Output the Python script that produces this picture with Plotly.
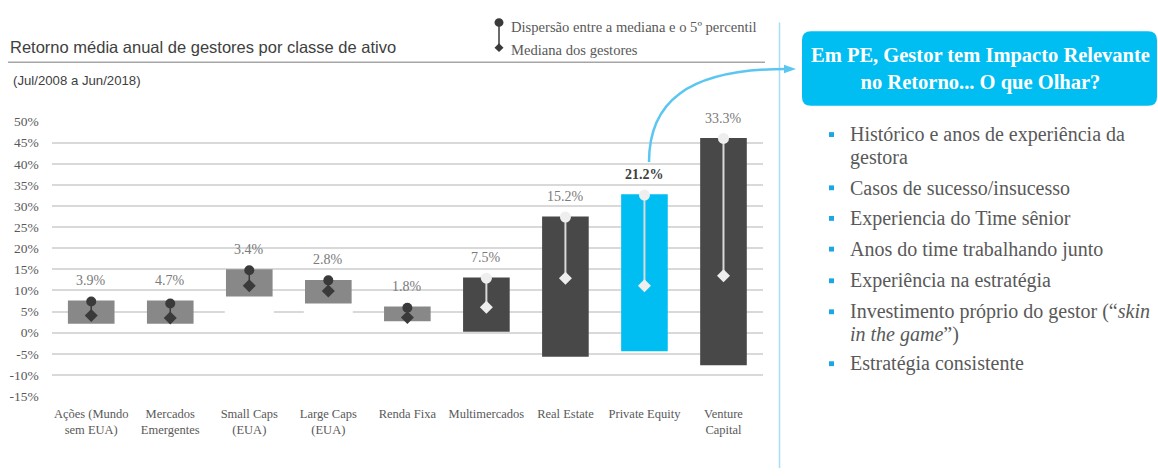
import plotly.graph_objects as go

# ---------------- data ----------------
categories = ["Ações (Mundo<br>sem EUA)", "Mercados<br>Emergentes", "Small Caps<br>(EUA)",
              "Large Caps<br>(EUA)", "Renda Fixa", "Multimercados", "Real Estate",
              "Private Equity", "Venture<br>Capital"]
bar_low = [2.1, 2.1, 8.6, 6.9, 2.7, 0.2, -5.7, -4.4, -7.7]
bar_high = [7.6, 7.6, 15.0, 12.5, 6.2, 13.1, 27.5, 32.8, 46.1]
top_dot = [7.4, 6.9, 14.8, 12.4, 5.9, 12.9, 27.4, 32.6, 46.0]
median = [4.1, 3.5, 11.1, 9.9, 3.6, 6.0, 12.9, 11.1, 13.5]
dispersion = [3.9, 4.7, 3.4, 2.8, 1.8, 7.5, 15.2, 21.2, 33.3]
y_ticks = [-15, -10, -5, 0, 5, 10, 15, 20, 25, 30, 35, 40, 45, 50]
bullets = [
    ["Histórico e anos de experiência da", "gestora"],
    ["Casos de sucesso/insucesso"],
    ["Experiencia do Time sênior"],
    ["Anos do time trabalhando junto"],
    ["Experiência na estratégia"],
    ["Investimento próprio do gestor (“<i>skin</i>", "<i>in the game</i>”)"],
    ["Estratégia consistente"],
]

# ---------------- styles ----------------
W, H = 1158, 476
SERIF = "Liberation Serif"
SANS = "Liberation Sans"
GRAY_BAR = "#888888"
DARK_BAR = "#484848"
CYAN = "#00bef2"
GAP = 0.4  # keeps the zero gridline visible above white bases
n = len(categories)
bar_colors = [GRAY_BAR] * 5 + [DARK_BAR, DARK_BAR, CYAN, DARK_BAR]
light_group = [False] * 5 + [True] * 4


def px(x):
    return x / W


def py(y):
    return 1 - y / H


fig = go.Figure()

# white base hiding gridlines below floating bars
fig.add_trace(go.Bar(x=categories, y=[max(l - GAP, 0) for l in bar_low], base=GAP,
                     marker=dict(color="white", line=dict(width=0)), width=0.62,
                     hoverinfo="skip", showlegend=False))
# floating bars
fig.add_trace(go.Bar(x=categories, y=[h - l for h, l in zip(bar_high, bar_low)], base=bar_low,
                     marker=dict(color=bar_colors, line=dict(width=0)), width=0.59,
                     showlegend=False))

for light in (False, True):
    idx = [i for i in range(n) if light_group[i] == light]
    col = "#eeeeee" if light else "#3a3a3a"
    lcol = "#d9d9d9" if light else "#3a3a3a"
    lx, ly = [], []
    for i in idx:
        lx += [categories[i], categories[i], None]
        ly += [top_dot[i], median[i], None]
    fig.add_trace(go.Scatter(x=lx, y=ly, mode="lines", line=dict(color=lcol, width=2 if light else 1.5),
                             showlegend=False, hoverinfo="skip"))
    fig.add_trace(go.Scatter(x=[categories[i] for i in idx], y=[top_dot[i] for i in idx], mode="markers",
                             marker=dict(symbol="circle", size=11 if light else 10, color=col),
                             showlegend=False))
    fig.add_trace(go.Scatter(x=[categories[i] for i in idx], y=[median[i] for i in idx], mode="markers",
                             marker=dict(symbol="diamond", size=10, color=col),
                             showlegend=False))

annotations = []
for i in range(n):
    bold = categories[i] == "Private Equity"
    annotations.append(dict(
        x=categories[i], y=bar_high[i], xref="x", yref="y", yshift=20,
        text=(f"<b>{dispersion[i]:.1f}%</b>" if bold else f"{dispersion[i]:.1f}%"),
        showarrow=False, font=dict(family=SERIF, size=14, color="#404040" if bold else "#7a7a7a")))

# title & subtitle
annotations.append(dict(x=px(8), y=py(41), xref="paper", yref="paper", xanchor="left", yanchor="middle",
                        text="Retorno média anual de gestores por classe de ativo", showarrow=False,
                        font=dict(family=SANS, size=16.5, color="#404040")))
annotations.append(dict(x=px(11), y=py(76), xref="paper", yref="paper", xanchor="left", yanchor="middle",
                        text="(Jul/2008 a Jun/2018)", showarrow=False,
                        font=dict(family=SANS, size=13.2, color="#404040")))
# legend text
annotations.append(dict(x=px(509), y=py(21), xref="paper", yref="paper", xanchor="left", yanchor="middle",
                        text="Dispersão entre a mediana e o 5º percentil", showarrow=False,
                        font=dict(family=SERIF, size=14.6, color="#595959")))
annotations.append(dict(x=px(509), y=py(44), xref="paper", yref="paper", xanchor="left", yanchor="middle",
                        text="Mediana dos gestores", showarrow=False,
                        font=dict(family=SERIF, size=14.6, color="#595959")))
# box text
annotations.append(dict(x=px(980), y=py(64.5), xref="paper", yref="paper", xanchor="center", yanchor="middle",
                        text="<b>Em PE, Gestor tem Impacto Relevante<br>no Retorno... O que Olhar?</b>",
                        showarrow=False, font=dict(family=SERIF, size=20.5, color="white")))

shapes = []
# title rule
shapes.append(dict(type="line", xref="paper", yref="paper", x0=px(8), x1=px(765), y0=py(57), y1=py(57),
                   line=dict(color="#a6a6a6", width=1.5)))
# legend glyphs
shapes.append(dict(type="line", xref="paper", yref="paper", x0=px(499), x1=px(499), y0=py(17), y1=py(42),
                   line=dict(color="#3a3a3a", width=1.5)))
shapes.append(dict(type="circle", xref="paper", yref="paper", x0=px(494.5), x1=px(503.5), y0=py(11.5),
                   y1=py(20.5), fillcolor="#3a3a3a", line=dict(width=0)))
shapes.append(dict(type="path", xref="paper", yref="paper",
                   path=f"M {px(499)},{py(37.5)} L {px(503.5)},{py(42)} L {px(499)},{py(46.5)} L {px(494.5)},{py(42)} Z",
                   fillcolor="#3a3a3a", line=dict(width=0)))
# vertical separator
shapes.append(dict(type="line", xref="paper", yref="paper", x0=px(779.5), x1=px(779.5), y0=py(16), y1=py(476),
                   line=dict(color="#a9def5", width=1.5)))
# rounded box
x0, x1, y0, y1, r = 802, 1157, 25, 102, 9
box = (f"M {px(x0 + r)},{py(y0)} L {px(x1 - r)},{py(y0)} Q {px(x1)},{py(y0)} {px(x1)},{py(y0 + r)} "
       f"L {px(x1)},{py(y1 - r)} Q {px(x1)},{py(y1)} {px(x1 - r)},{py(y1)} "
       f"L {px(x0 + r)},{py(y1)} Q {px(x0)},{py(y1)} {px(x0)},{py(y1 - r)} "
       f"L {px(x0)},{py(y0 + r)} Q {px(x0)},{py(y0)} {px(x0 + r)},{py(y0)} Z")
shapes.append(dict(type="path", xref="paper", yref="paper", path=box, fillcolor=CYAN, line=dict(width=0)))
# arrow curve
curve = (f"M {px(649)},{py(160)} C {px(649)},{py(100)} {px(685)},{py(64)} {px(786)},{py(64)}")
shapes.append(dict(type="path", xref="paper", yref="paper", path=curve, line=dict(color="#5cc6f2", width=2.5)))
shapes.append(dict(type="path", xref="paper", yref="paper",
                   path=f"M {px(784)},{py(59.5)} L {px(796)},{py(64)} L {px(784)},{py(68.5)} Z",
                   fillcolor="#5cc6f2", line=dict(width=0)))

# bullets
line_y = [[131.7, 155], [186.7], [218.3], [250], [282.7], [314.7, 337.7], [368.3]]
for b, ys in zip(bullets, line_y):
    shapes.append(dict(type="rect", xref="paper", yref="paper", x0=px(829), x1=px(834),
                       y0=py(ys[0] - 2.5), y1=py(ys[0] + 2.5), fillcolor="#1aa7e6", line=dict(width=0)))
    for t, yy in zip(b, ys):
        annotations.append(dict(x=px(848), y=py(yy), xref="paper", yref="paper", xanchor="left",
                                yanchor="middle", text=t, showarrow=False,
                                font=dict(family=SERIF, size=20, color="#595959")))

fig.update_layout(
    width=W, height=H, margin=dict(l=0, r=0, t=0, b=0),
    paper_bgcolor="white", plot_bgcolor="white",
    barmode="overlay", showlegend=False,
    annotations=annotations, shapes=shapes,
    xaxis=dict(domain=[px(51.7), px(763)], type="category", range=[-0.5, n - 0.5],
               showgrid=False, showline=False, zeroline=False, ticks="", ticklabelstandoff=8,
               tickfont=dict(family=SERIF, size=12.5, color="#595959")),
    yaxis=dict(domain=[py(401.7), py(118.3)], range=[-15, 50], tickvals=y_ticks,
               ticktext=[f"{v}%" for v in y_ticks], showgrid=True, gridcolor="#d9d9d9", gridwidth=1.5,
               zeroline=False, showline=False, ticks="", ticklabelstandoff=12,
               tickfont=dict(family=SERIF, size=13.5, color="#595959")),
)

page_fix = """
var s=document.documentElement.style; s.margin='0'; s.padding='0'; s.overflow='hidden';
var b=document.body.style; b.margin='0'; b.padding='0'; b.overflow='hidden';
"""
fig.write_html("out.html", config={"displayModeBar": False}, post_script=page_fix)
